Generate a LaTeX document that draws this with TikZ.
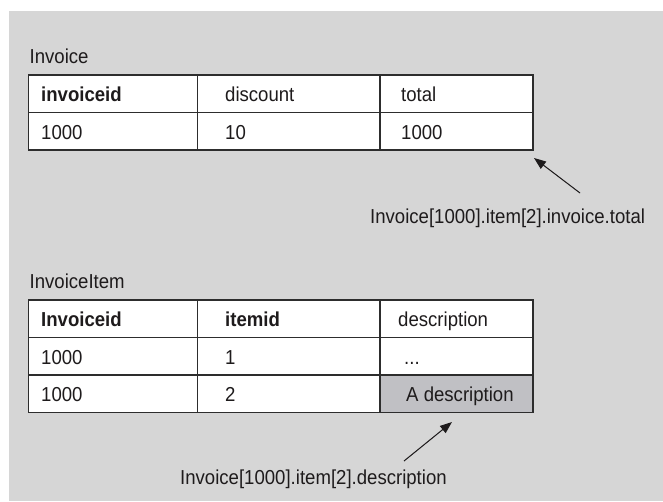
\documentclass[tikz,border=0pt]{standalone}
\usepackage{fontspec}
\setmainfont[FakeStretch=0.92]{Liberation Sans}
\usepackage{tikz}
\usetikzlibrary{arrows.meta}
\definecolor{mybggray}{RGB}{214,214,214}
\definecolor{mycellgray}{RGB}{192,192,196}
\definecolor{myline}{RGB}{45,45,45}
\definecolor{mytext}{RGB}{30,27,28}
\tikzset{
  tabline/.style={line width=1.2pt, draw=myline},
  celltext/.style={anchor=base west, inner sep=0pt, text=mytext, font=\fontsize{20.2}{24}\selectfont},
  headtext/.style={celltext, font=\fontsize{20.2}{24}\selectfont\bfseries},
  pointer/.style={-{Triangle[length=12pt,width=9pt]}, line width=1pt, draw=mytext, fill=mytext}
}

\begin{document}
\begin{tikzpicture}[x=1pt, y=1pt]
	\useasboundingbox (0,0) rectangle (663,-501);
	\fill[mybggray] (9,-11) rectangle (663,-501);

	% Invoice table
	\node[celltext] (invlabel) at (29.5,-63) {Invoice};
	\draw[tabline, fill=white] (28.5,-75) rectangle (533,-150);
	\draw[tabline] (28.5,-112.5) to (533,-112.5);
	\draw[tabline] (197.5,-75) to (197.5,-150);
	\draw[tabline] (380,-75) to (380,-150);
	\node[headtext] (invid) at (41,-101.5) {invoiceid};
	\node[celltext] (invdisc) at (225,-101.5) {discount};
	\node[celltext] (invtotal) at (401,-101.5) {total};
	\node[celltext] (invidval) at (41,-139) {1000};
	\node[celltext] (invdiscval) at (225,-139) {10};
	\node[celltext] (invtotalval) at (401,-139) {1000};

	% path to the total
	\node[celltext] (totalpath) at (370,-223) {Invoice[1000].item[2].invoice.total};
	\coordinate (totaltail) at (580,-193);
	\coordinate (totaltip) at (534,-158);
	\draw[pointer] (totaltail) to (totaltip);

	% InvoiceItem table
	\node[celltext] (itemlabel) at (29.5,-288) {InvoiceItem};
	\draw[tabline, fill=white] (28.5,-300) rectangle (533,-412.5);
	\draw[tabline, fill=mycellgray] (380,-375) rectangle (533,-412.5);
	\draw[tabline] (28.5,-337.5) to (533,-337.5);
	\draw[tabline] (28.5,-375) to (533,-375);
	\draw[tabline] (197.5,-300) to (197.5,-412.5);
	\draw[tabline] (380,-300) to (380,-412.5);
	\node[headtext] (itinvid) at (41,-326.5) {Invoiceid};
	\node[headtext] (ititemid) at (225,-326.5) {itemid};
	\node[celltext] (itdesc) at (398,-326.5) {description};
	\node[celltext] (itinvone) at (41,-364) {1000};
	\node[celltext] (ititemone) at (225,-364) {1};
	\node[celltext] (itdescone) at (404,-364) {...};
	\node[celltext] (itinvtwo) at (41,-401.5) {1000};
	\node[celltext] (ititemtwo) at (225,-401.5) {2};
	\node[celltext] (itdesctwo) at (406,-401.5) {A description};

	% path to the description
	\node[celltext] (descpath) at (180,-484) {Invoice[1000].item[2].description};
	\coordinate (desctail) at (404,-461);
	\coordinate (desctip) at (452,-422);
	\draw[pointer] (desctail) to (desctip);
\end{tikzpicture}
\end{document}
